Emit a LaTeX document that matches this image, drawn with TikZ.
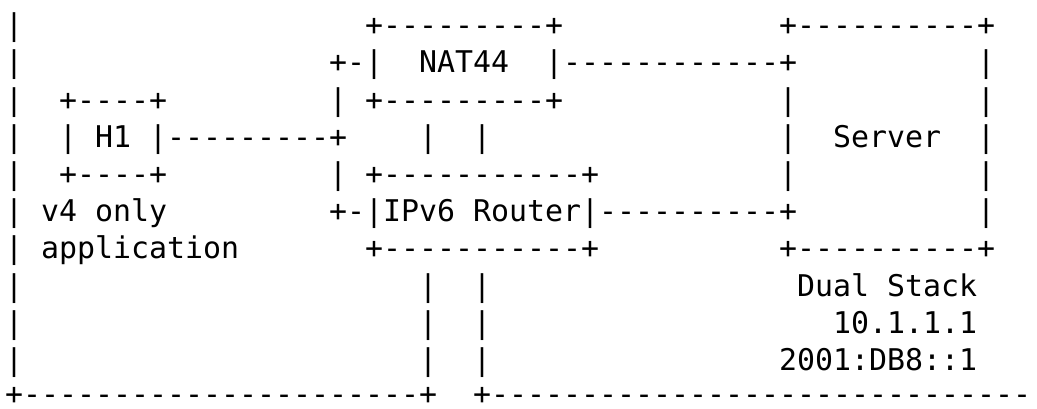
\documentclass[tikz,border=0pt]{standalone}
\usepackage{fontspec}
\setmonofont{DejaVu Sans Mono}
\usetikzlibrary{positioning}
\tikzset{
  asc/.style={anchor=base west, inner sep=0pt, outer sep=0pt,
    font=\ttfamily\fontsize{14.95pt}{18pt}\selectfont},
}
\begin{document}
\begin{tikzpicture}[x=9pt, y=-18.6pt]
\useasboundingbox[fill=white] (0,0) rectangle (57.611,10.968);
\begin{scope}[shift={(0.278,0.962)}]
% outer frame (v4 side)
\foreach \r in {0,...,9} \node[asc] (frame\r) at (0,\r) {|};
\node[asc] (framebot) at (0,9.9) {+----------------------+};
\node[asc] (v6bot) at (26,9.9) {+------------------------------};

% H1
\node[asc] (h1top) at (3,2) {+----+};
\node[asc] (h1left) at (3,3) {|};
\node[asc] (h1) at (5,3) {H1};
\node[asc] (h1link) at (8,3) {|---------+};
\node[asc] (h1bot) at (3,4) {+----+};
\node[asc] (v4) at (2,5) {v4 only};
\node[asc] (app) at (2,6) {application};
\foreach \r in {2,4} \node[asc] (join\r) at (18,\r) {|};

% NAT44
\node[asc] (nattop) at (20,0) {+---------+};
\node[asc] (natin) at (18,1) {+-|};
\node[asc] (nat) at (23,1) {NAT44};
\node[asc] (natlink) at (30,1) {|------------+};
\node[asc] (natbot) at (20,2) {+---------+};

% IPv6 Router
\node[asc] (rtrtop) at (20,4) {+-----------+};
\node[asc] (rtrin) at (18,5) {+-|};
\node[asc] (router) at (21,5) {IPv6 Router};
\node[asc] (rtrlink) at (32,5) {|----------+};
\node[asc] (rtrbot) at (20,6) {+-----------+};

% links between NAT44, router and the v6 side
\foreach \r in {3,7,8,9} {
  \node[asc] (pipea\r) at (23,\r) {|};
  \node[asc] (pipeb\r) at (26,\r) {|};
}

% Server
\node[asc] (srvtop) at (43,0) {+----------+};
\foreach \r in {2,3,4} \node[asc] (srvl\r) at (43,\r) {|};
\foreach \r in {1,...,5} \node[asc] (srvr\r) at (54,\r) {|};
\node[asc] (server) at (46,3) {Server};
\node[asc] (srvbot) at (43,6) {+----------+};
\node[asc] (dual) at (44,7) {Dual Stack};
\node[asc] (ipv4) at (46,8) {10.1.1.1};
\node[asc] (ipv6) at (43,9) {2001:DB8::1};
\end{scope}
\end{tikzpicture}
\end{document}
